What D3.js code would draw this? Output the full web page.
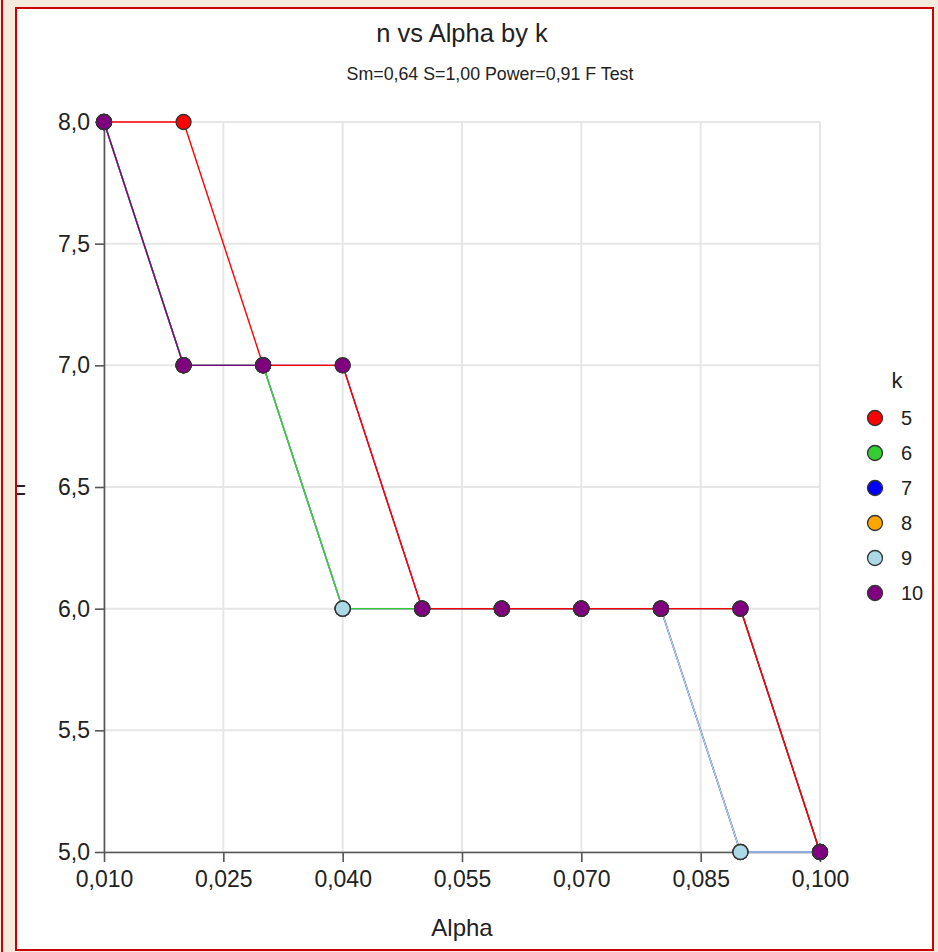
<!DOCTYPE html>
<html>
<head>
<meta charset="utf-8">
<script src="https://cdn.jsdelivr.net/npm/d3@7"></script>
<style>
  html, body { margin: 0; padding: 0; background: #f4ebdc; }
  svg { display: block; font-family: "Liberation Sans", Arial, Helvetica, sans-serif; }
</style>
</head>
<body>
<svg id="chart" width="938" height="952"></svg>
<script>
// Alpha Levels Along The X Axis
var alphaLevels = [0.010, 0.020, 0.030, 0.040, 0.050, 0.060, 0.070, 0.080, 0.090, 0.100];
// Number Of Groups, One Series Each
var kLevels = [5, 6, 7, 8, 9, 10];
// n Per Group At Each Alpha
var nK5  = [8, 8, 7, 7, 6, 6, 6, 6, 6, 5];
var nK6  = [8, 7, 7, 6, 6, 6, 6, 6, 6, 5];
var nK7  = [8, 7, 7, 6, 6, 6, 6, 6, 5, 5];
var nK8  = [8, 7, 7, 6, 6, 6, 6, 6, 5, 5];
var nK9  = [8, 7, 7, 6, 6, 6, 6, 6, 5, 5];
var nK10 = [8, 7, 7, 7, 6, 6, 6, 6, 6, 5];
var xTicks = [0.010, 0.025, 0.040, 0.055, 0.070, 0.085, 0.100];
var yTicks = [5.0, 5.5, 6.0, 6.5, 7.0, 7.5, 8.0];

var TITLE = "n vs Alpha by k";
var SUBTITLE = "Sm=0,64 S=1,00 Power=0,91 F Test";
var X_LABEL = "Alpha";
var Y_LABEL = "n";
var LEGEND_TITLE = "k";

var colors = ["#ff0000", "#33cc33", "#0000ff", "#ffa500", "#add8e6", "#800080"];
// Lines Stack In This Order (last one on top)
var lineOrder = [8, 7, 9, 6, 10, 5];

var seriesValues = [nK5, nK6, nK7, nK8, nK9, nK10];
var series = kLevels.map(function(k, i) {
  return {
    k: k,
    color: colors[i],
    points: alphaLevels.map(function(a, j) { return {alpha: a, n: seriesValues[i][j]}; })
  };
});

// Comma Decimals
var locale = d3.formatLocale({decimal: ",", thousands: ".", grouping: [3], currency: ["", ""]});
var fmtX = locale.format(".3f");
var fmtY = locale.format(".1f");

var svg = d3.select("#chart");
var W = 938, H = 952;

// Page Frame
svg.append("rect").attr("x", 0).attr("y", 0).attr("width", W).attr("height", H).attr("fill", "#f4ebdc");
svg.append("rect")
    .attr("x", 16).attr("y", 8).attr("width", 917).attr("height", 942)
    .attr("fill", "#ffffff");

var x = d3.scaleLinear().domain([0.010, 0.100]).range([104, 820]);
var y = d3.scaleLinear().domain([5.0, 8.0]).range([852, 122]);

// Grid
var grid = svg.append("g").attr("class", "grid");
grid.selectAll(".vgrid").data(xTicks).enter().append("line")
    .attr("x1", function(d) { return x(d); }).attr("x2", function(d) { return x(d); })
    .attr("y1", y(8.0)).attr("y2", y(5.0))
    .attr("stroke", "#e6e6e6").attr("stroke-width", 2);
grid.selectAll(".hgrid").data(yTicks).enter().append("line")
    .attr("x1", x(0.010)).attr("x2", x(0.100))
    .attr("y1", function(d) { return y(d); }).attr("y2", function(d) { return y(d); })
    .attr("stroke", "#e6e6e6").attr("stroke-width", 2);

// Axes
var xAxis = svg.append("g")
    .attr("transform", "translate(0," + y(5.0) + ")")
    .call(d3.axisBottom(x).tickValues(xTicks).tickFormat(fmtX).tickSize(10).tickSizeOuter(0).tickPadding(9));
var yAxis = svg.append("g")
    .attr("transform", "translate(" + x(0.010) + ",0)")
    .call(d3.axisLeft(y).tickValues(yTicks).tickFormat(fmtY).tickSize(9).tickSizeOuter(0).tickPadding(5));
[xAxis, yAxis].forEach(function(ax) {
  ax.select(".domain").attr("stroke", "#555").attr("stroke-width", 1.6);
  ax.selectAll(".tick line").attr("stroke", "#555").attr("stroke-width", 1.6);
  ax.selectAll(".tick text").attr("fill", "#222").style("font-size", "23px")
    .style("font-family", "'Liberation Sans', Arial, sans-serif");
});

// Series Lines
var line = d3.line()
    .x(function(d) { return x(d.alpha); })
    .y(function(d) { return y(d.n); });
var byK = {};
series.forEach(function(s) { byK[s.k] = s; });
svg.append("g").selectAll("path")
    .data(lineOrder.map(function(k) { return byK[k]; }))
    .enter().append("path")
    .attr("d", function(s) { return line(s.points); })
    .attr("fill", "none")
    .attr("stroke", function(s) { return s.color; })
    .attr("stroke-width", 1.4);

// Markers, Higher k Drawn Last
var markers = svg.append("g");
series.forEach(function(s) {
  markers.selectAll(null).data(s.points).enter().append("circle")
      .attr("cx", function(d) { return x(d.alpha); })
      .attr("cy", function(d) { return y(d.n); })
      .attr("r", 7.5)
      .attr("fill", s.color)
      .attr("stroke", "#333")
      .attr("stroke-width", 1.3);
});

// Titles
svg.append("text").attr("x", 462).attr("y", 42).attr("text-anchor", "middle")
    .attr("fill", "#222").style("font-size", "25.5px").text(TITLE);
svg.append("text").attr("x", 490).attr("y", 80).attr("text-anchor", "middle")
    .attr("fill", "#222").style("font-size", "17.8px").text(SUBTITLE);
svg.append("text").attr("x", 462).attr("y", 936).attr("text-anchor", "middle")
    .attr("fill", "#222").style("font-size", "24px").text(X_LABEL);
svg.append("text")
    .attr("transform", "translate(25,490) rotate(-90)")
    .attr("text-anchor", "middle")
    .attr("fill", "#222").style("font-size", "24px").text(Y_LABEL);

// Legend
var legend = svg.append("g");
legend.append("text").attr("x", 897).attr("y", 388).attr("text-anchor", "middle")
    .attr("fill", "#222").style("font-size", "22px").text(LEGEND_TITLE);
var items = legend.selectAll(".item").data(series).enter().append("g")
    .attr("transform", function(d, i) { return "translate(875,"  + (418 + i * 35) + ")"; });
items.append("circle").attr("r", 7.5)
    .attr("fill", function(d) { return d.color; })
    .attr("stroke", "#333").attr("stroke-width", 1.3);
items.append("text").attr("x", 26).attr("dy", "0.36em")
    .attr("fill", "#222").style("font-size", "20px")
    .text(function(d) { return d.k; });

// Left Strip And Red Borders Drawn Over Everything
svg.append("rect").attr("x", 0).attr("y", 0).attr("width", 16).attr("height", H).attr("fill", "#f4ebdc");
svg.append("line").attr("x1", 2).attr("x2", 2).attr("y1", 0).attr("y2", H)
    .attr("stroke", "#cc0000").attr("stroke-width", 2);
svg.append("rect")
    .attr("x", 16).attr("y", 8).attr("width", 917).attr("height", 942)
    .attr("fill", "none").attr("stroke", "#cc0000").attr("stroke-width", 2);
</script>
</body>
</html>
